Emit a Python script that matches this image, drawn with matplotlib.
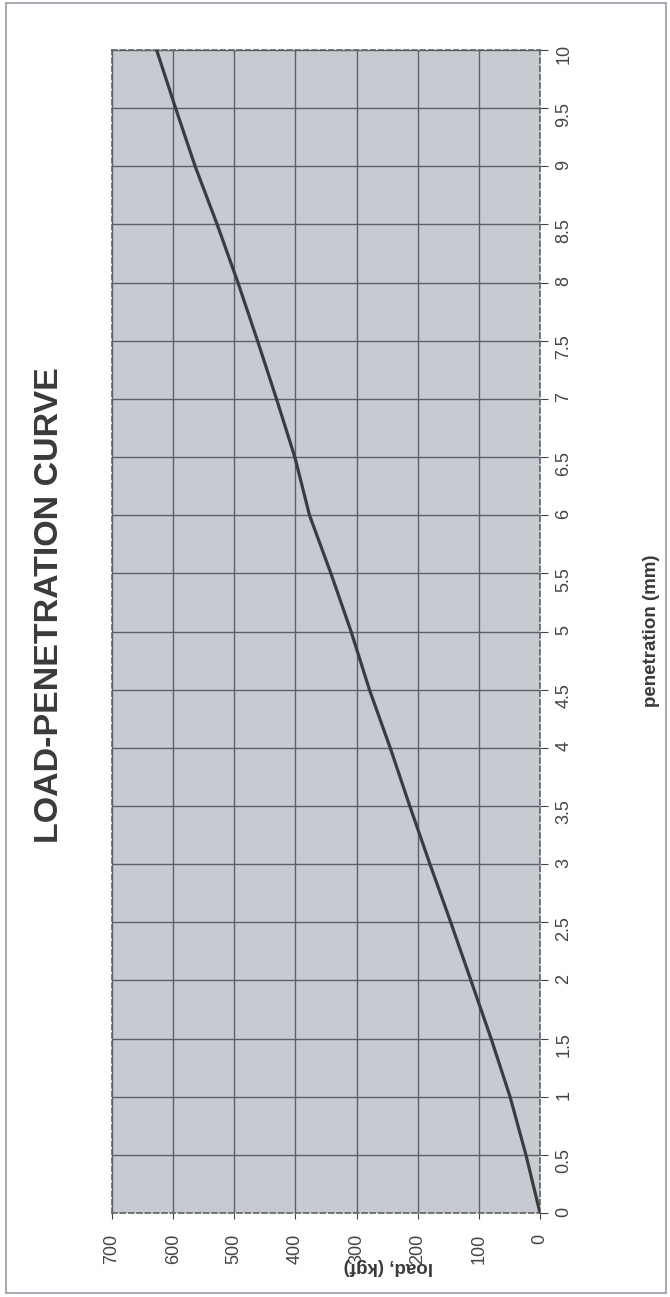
import matplotlib.pyplot as plt
from matplotlib.patches import Rectangle

# data (penetration in mm, load in kgf)
penetration = [0, 0.5, 1, 1.5, 2, 2.5, 3, 3.5, 4, 4.5, 5, 5.5, 6, 6.5, 7, 7.5, 8, 8.5, 9, 9.5, 10]
load = [0, 23, 49, 80, 113, 146, 180, 213, 245, 279, 309, 342, 377, 401, 431, 462, 494, 528, 564, 596, 627]

load_ticks = [0, 100, 200, 300, 400, 500, 600, 700]
pen_ticks = [0, 0.5, 1, 1.5, 2, 2.5, 3, 3.5, 4, 4.5, 5, 5.5, 6, 6.5, 7, 7.5, 8, 8.5, 9, 9.5, 10]
pen_labels = ["0", "0.5", "1", "1.5", "2", "2.5", "3", "3.5", "4", "4.5", "5",
              "5.5", "6", "6.5", "7", "7.5", "8", "8.5", "9", "9.5", "10"]

plt.rcParams['font.family'] = ['Liberation Sans', 'DejaVu Sans']

W, H = 670, 1297
fig = plt.figure(figsize=(W / 100, H / 100), dpi=100)

# the scanned chart is turned 90 degrees, so load runs right-to-left along the bottom
ax = fig.add_axes([112 / W, 1 - 1213 / H, (540 - 112) / W, (1213 - 50) / H])
ax.set_facecolor("#c7cad1")
ax.plot(load, penetration, color="#3c3c40", linewidth=2.3, zorder=3)

ax.set_xlim(700, 0)
ax.set_ylim(0, 10)
ax.set_xticks(load_ticks)
ax.set_yticks(pen_ticks)
ax.set_yticklabels(pen_labels)
ax.yaxis.tick_right()
ax.grid(True, color="#5e6068", linewidth=1.0)
ax.set_axisbelow(True)

ax.tick_params(axis="x", rotation=90, labelsize=13, length=4, pad=11, colors="#444444")
ax.tick_params(axis="y", rotation=90, labelsize=13, length=6, pad=5, colors="#444444")
for s in ax.spines.values():
    s.set_color("#606068")
    s.set_linestyle((0, (3, 2)))
    s.set_linewidth(1.2)

fig.text(50 / W, 1 - 605 / H, "LOAD-PENETRATION CURVE", rotation=90, ha="center", va="center",
         fontsize=24.5, fontweight="bold", color="#3a3a3a")
fig.text(652 / W, 1 - 631 / H, "penetration (mm)", rotation=90, ha="center", va="center",
         fontsize=13.5, fontweight="bold", color="#3a3a3a")
# sits over the tick labels, as in the scan
fig.text(388 / W, 1 - 1266 / H, "load, (kgf)", rotation=180, ha="center", va="center",
         fontsize=13.5, fontweight="bold", color="#3a3a3a")

# outer chart border
fig.patches.append(Rectangle((6 / W, 1 - 1293 / H), (666 - 6) / W, (1293 - 3) / H,
                             transform=fig.transFigure, fill=False, edgecolor="#9a9aa8", linewidth=1.2))

fig.savefig("out.png", dpi=100)
